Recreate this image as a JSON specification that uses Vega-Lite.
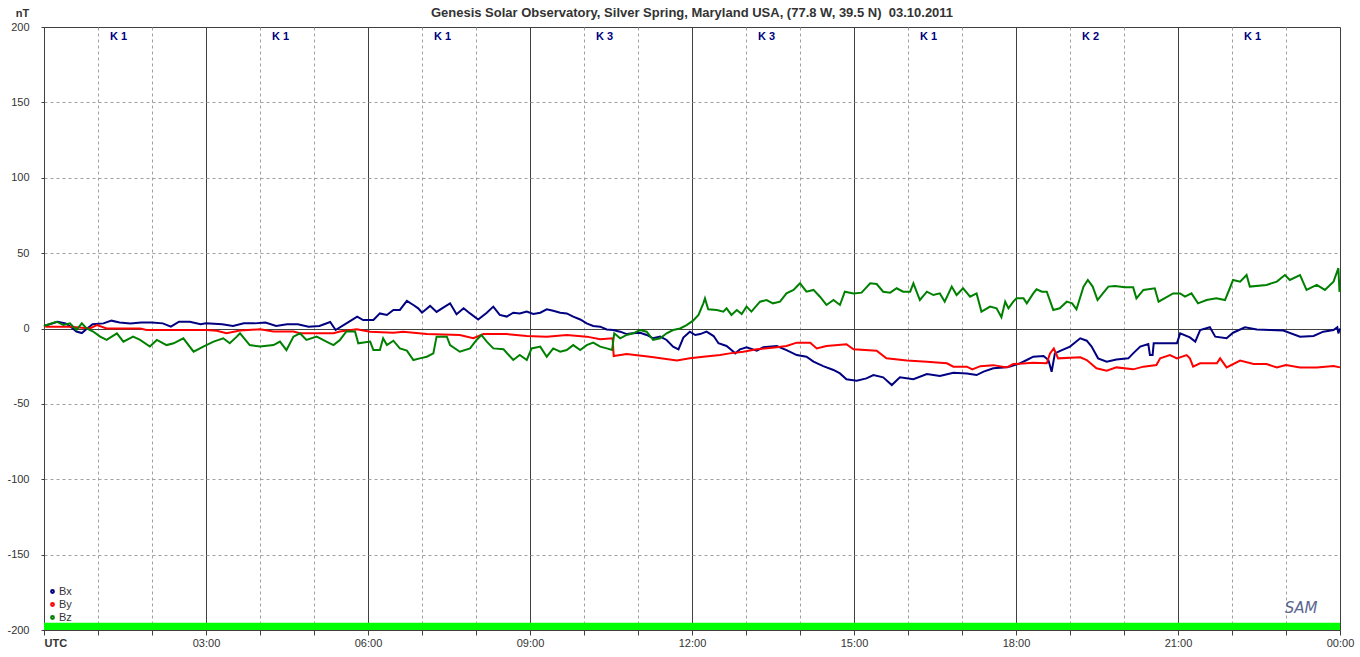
{
  "$schema": "https://vega.github.io/schema/vega-lite/v6.json",
  "width": 1296,
  "height": 603,
  "autosize": {"type": "none"},
  "padding": {"left": 44, "top": 27, "right": 20, "bottom": 27},
  "background": "white",
  "title": {"text": "Genesis Solar Observatory, Silver Spring, Maryland USA, (77.8 W, 39.5 N)\u00a0 03.10.2011", "fontSize": 13, "font": "Liberation Sans", "fontWeight": "bold", "color": "#333333", "anchor": "middle", "offset": -13},
  "config": {
    "view": {"stroke": "#404040", "strokeWidth": 1},
    "axis": {"labelFont": "Liberation Sans", "labelFontSize": 11, "labelColor": "#333333", "tickColor": "#404040", "domainColor": "#404040", "gridWidth": 1}
  },
  "datasets": {
    "series": [
      {"s":"Bx","t":0,"v":1.7},{"s":"Bx","t":0.25,"v":4.5},{"s":"Bx","t":0.4,"v":3.4},{"s":"Bx","t":0.5,"v":1},{"s":"Bx","t":0.6,"v":-2},{"s":"Bx","t":0.7,"v":-3},{"s":"Bx","t":0.8,"v":0},{"s":"Bx","t":0.9,"v":2.8},{"s":"Bx","t":1.1,"v":3.4},{"s":"Bx","t":1.25,"v":5.2},{"s":"Bx","t":1.4,"v":4},{"s":"Bx","t":1.6,"v":3.4},{"s":"Bx","t":1.8,"v":4},{"s":"Bx","t":2.0,"v":4},{"s":"Bx","t":2.2,"v":3.4},{"s":"Bx","t":2.35,"v":1.2},{"s":"Bx","t":2.5,"v":4.5},{"s":"Bx","t":2.7,"v":4.5},{"s":"Bx","t":2.9,"v":2.8},{"s":"Bx","t":3.0,"v":3.4},{"s":"Bx","t":3.3,"v":2.8},{"s":"Bx","t":3.5,"v":1.7},{"s":"Bx","t":3.7,"v":3.4},{"s":"Bx","t":3.9,"v":3.4},{"s":"Bx","t":4.1,"v":4},{"s":"Bx","t":4.3,"v":1.7},{"s":"Bx","t":4.5,"v":2.8},{"s":"Bx","t":4.7,"v":2.8},{"s":"Bx","t":4.9,"v":1.2},{"s":"Bx","t":5.1,"v":1.7},{"s":"Bx","t":5.3,"v":4.3},{"s":"Bx","t":5.4,"v":-1},{"s":"Bx","t":5.6,"v":3.4},{"s":"Bx","t":5.8,"v":7.8},{"s":"Bx","t":5.91,"v":5.6},{"s":"Bx","t":6.1,"v":5.6},{"s":"Bx","t":6.22,"v":10},{"s":"Bx","t":6.35,"v":9},{"s":"Bx","t":6.47,"v":12.3},{"s":"Bx","t":6.59,"v":12.3},{"s":"Bx","t":6.72,"v":18.3},{"s":"Bx","t":6.84,"v":15.6},{"s":"Bx","t":6.93,"v":13.4},{"s":"Bx","t":7.0,"v":10.5},{"s":"Bx","t":7.15,"v":15},{"s":"Bx","t":7.27,"v":11},{"s":"Bx","t":7.4,"v":14},{"s":"Bx","t":7.52,"v":16.7},{"s":"Bx","t":7.64,"v":9.4},{"s":"Bx","t":7.77,"v":13.4},{"s":"Bx","t":7.89,"v":10},{"s":"Bx","t":8.04,"v":6},{"s":"Bx","t":8.2,"v":10.5},{"s":"Bx","t":8.32,"v":14.5},{"s":"Bx","t":8.44,"v":9},{"s":"Bx","t":8.57,"v":7.9},{"s":"Bx","t":8.69,"v":10.5},{"s":"Bx","t":8.81,"v":10},{"s":"Bx","t":8.94,"v":11.2},{"s":"Bx","t":9.06,"v":9.6},{"s":"Bx","t":9.19,"v":10.5},{"s":"Bx","t":9.31,"v":12.7},{"s":"Bx","t":9.43,"v":11.8},{"s":"Bx","t":9.56,"v":10.5},{"s":"Bx","t":9.68,"v":10},{"s":"Bx","t":9.8,"v":7.9},{"s":"Bx","t":9.93,"v":6},{"s":"Bx","t":10.05,"v":3.4},{"s":"Bx","t":10.17,"v":1.7},{"s":"Bx","t":10.3,"v":1.2},{"s":"Bx","t":10.42,"v":-0.6},{"s":"Bx","t":10.54,"v":-1},{"s":"Bx","t":10.67,"v":-2.1},{"s":"Bx","t":10.79,"v":-3.7},{"s":"Bx","t":10.91,"v":-3.2},{"s":"Bx","t":11.04,"v":-2.8},{"s":"Bx","t":11.16,"v":-4.3},{"s":"Bx","t":11.28,"v":-6.5},{"s":"Bx","t":11.41,"v":-5.4},{"s":"Bx","t":11.53,"v":-7.6},{"s":"Bx","t":11.65,"v":-12},{"s":"Bx","t":11.75,"v":-13.8},{"s":"Bx","t":11.84,"v":-6},{"s":"Bx","t":11.96,"v":-2.1},{"s":"Bx","t":12.06,"v":-4.3},{"s":"Bx","t":12.15,"v":-3.7},{"s":"Bx","t":12.27,"v":-2.1},{"s":"Bx","t":12.4,"v":-5},{"s":"Bx","t":12.49,"v":-9.8},{"s":"Bx","t":12.64,"v":-11.6},{"s":"Bx","t":12.73,"v":-14.3},{"s":"Bx","t":12.8,"v":-16.5},{"s":"Bx","t":12.89,"v":-13.8},{"s":"Bx","t":13.01,"v":-12.5},{"s":"Bx","t":13.2,"v":-14.7},{"s":"Bx","t":13.32,"v":-12.5},{"s":"Bx","t":13.57,"v":-11.6},{"s":"Bx","t":13.75,"v":-14.3},{"s":"Bx","t":13.94,"v":-17.6},{"s":"Bx","t":14.12,"v":-18.7},{"s":"Bx","t":14.25,"v":-22},{"s":"Bx","t":14.43,"v":-25},{"s":"Bx","t":14.62,"v":-27.5},{"s":"Bx","t":14.74,"v":-29.8},{"s":"Bx","t":14.86,"v":-33.7},{"s":"Bx","t":15.05,"v":-34.6},{"s":"Bx","t":15.23,"v":-33.1},{"s":"Bx","t":15.36,"v":-30.9},{"s":"Bx","t":15.54,"v":-32.4},{"s":"Bx","t":15.7,"v":-37.5},{"s":"Bx","t":15.85,"v":-32.4},{"s":"Bx","t":16.1,"v":-33.7},{"s":"Bx","t":16.35,"v":-30.2},{"s":"Bx","t":16.59,"v":-31.5},{"s":"Bx","t":16.84,"v":-29.3},{"s":"Bx","t":17.09,"v":-29.8},{"s":"Bx","t":17.27,"v":-30.9},{"s":"Bx","t":17.4,"v":-28.6},{"s":"Bx","t":17.58,"v":-26.4},{"s":"Bx","t":17.77,"v":-25.8},{"s":"Bx","t":17.89,"v":-25.3},{"s":"Bx","t":18.07,"v":-23.1},{"s":"Bx","t":18.2,"v":-20.9},{"s":"Bx","t":18.32,"v":-18.7},{"s":"Bx","t":18.51,"v":-18.3},{"s":"Bx","t":18.6,"v":-20.9},{"s":"Bx","t":18.66,"v":-28.7},{"s":"Bx","t":18.72,"v":-16.5},{"s":"Bx","t":18.85,"v":-14.3},{"s":"Bx","t":19.0,"v":-12},{"s":"Bx","t":19.19,"v":-6.5},{"s":"Bx","t":19.31,"v":-8.1},{"s":"Bx","t":19.4,"v":-12},{"s":"Bx","t":19.52,"v":-19.8},{"s":"Bx","t":19.68,"v":-22},{"s":"Bx","t":19.86,"v":-20.5},{"s":"Bx","t":20.08,"v":-19.8},{"s":"Bx","t":20.17,"v":-16.5},{"s":"Bx","t":20.3,"v":-12},{"s":"Bx","t":20.45,"v":-10.3},{"s":"Bx","t":20.48,"v":-17.6},{"s":"Bx","t":20.53,"v":-17.6},{"s":"Bx","t":20.55,"v":-9.8},{"s":"Bx","t":20.98,"v":-9.8},{"s":"Bx","t":21.04,"v":-3.2},{"s":"Bx","t":21.22,"v":-5.9},{"s":"Bx","t":21.32,"v":-8.7},{"s":"Bx","t":21.41,"v":-1},{"s":"Bx","t":21.59,"v":0.8},{"s":"Bx","t":21.69,"v":-5.4},{"s":"Bx","t":21.9,"v":-6.5},{"s":"Bx","t":22.02,"v":-2.8},{"s":"Bx","t":22.24,"v":0.8},{"s":"Bx","t":22.46,"v":-0.6},{"s":"Bx","t":22.7,"v":-1},{"s":"Bx","t":22.95,"v":-1.4},{"s":"Bx","t":23.26,"v":-5.4},{"s":"Bx","t":23.51,"v":-5},{"s":"Bx","t":23.69,"v":-2.1},{"s":"Bx","t":23.88,"v":-1},{"s":"Bx","t":23.95,"v":0.8},{"s":"Bx","t":23.97,"v":-3.2},{"s":"Bx","t":24,"v":0},
      {"s":"By","t":0,"v":1.7},{"s":"By","t":0.05,"v":1.2},{"s":"By","t":0.5,"v":1.2},{"s":"By","t":0.85,"v":0},{"s":"By","t":0.98,"v":2.3},{"s":"By","t":1.16,"v":0},{"s":"By","t":1.78,"v":0},{"s":"By","t":1.9,"v":-1},{"s":"By","t":3.01,"v":-1},{"s":"By","t":3.2,"v":-1.5},{"s":"By","t":3.38,"v":-3.2},{"s":"By","t":3.63,"v":-1.4},{"s":"By","t":4.0,"v":-0.5},{"s":"By","t":4.25,"v":-2},{"s":"By","t":4.62,"v":-2},{"s":"By","t":4.74,"v":-3.2},{"s":"By","t":5.36,"v":-3.2},{"s":"By","t":5.48,"v":-2},{"s":"By","t":5.79,"v":-0.5},{"s":"By","t":6.04,"v":-2.1},{"s":"By","t":6.47,"v":-2.8},{"s":"By","t":6.65,"v":-2.1},{"s":"By","t":7.09,"v":-3.7},{"s":"By","t":7.7,"v":-4.3},{"s":"By","t":7.95,"v":-6.5},{"s":"By","t":8.14,"v":-3.7},{"s":"By","t":8.57,"v":-3.7},{"s":"By","t":8.94,"v":-5},{"s":"By","t":9.31,"v":-5.4},{"s":"By","t":9.68,"v":-4.3},{"s":"By","t":10.05,"v":-5.4},{"s":"By","t":10.3,"v":-7.2},{"s":"By","t":10.53,"v":-6.5},{"s":"By","t":10.55,"v":-18.3},{"s":"By","t":10.79,"v":-16.9},{"s":"By","t":11.22,"v":-18.7},{"s":"By","t":11.72,"v":-21.3},{"s":"By","t":11.96,"v":-19.8},{"s":"By","t":12.21,"v":-18.7},{"s":"By","t":12.52,"v":-17.6},{"s":"By","t":12.7,"v":-16.5},{"s":"By","t":12.95,"v":-15.4},{"s":"By","t":13.2,"v":-13.8},{"s":"By","t":13.57,"v":-12.5},{"s":"By","t":13.75,"v":-11.6},{"s":"By","t":13.94,"v":-9.4},{"s":"By","t":14.19,"v":-9.4},{"s":"By","t":14.31,"v":-13.2},{"s":"By","t":14.49,"v":-11.6},{"s":"By","t":14.86,"v":-10.4},{"s":"By","t":14.99,"v":-13.8},{"s":"By","t":15.42,"v":-14.7},{"s":"By","t":15.6,"v":-19.8},{"s":"By","t":15.98,"v":-21.3},{"s":"By","t":16.35,"v":-22},{"s":"By","t":16.72,"v":-23.1},{"s":"By","t":16.84,"v":-25.3},{"s":"By","t":17.09,"v":-25.3},{"s":"By","t":17.19,"v":-27.1},{"s":"By","t":17.34,"v":-25},{"s":"By","t":17.58,"v":-24.3},{"s":"By","t":17.83,"v":-25.8},{"s":"By","t":17.95,"v":-23.6},{"s":"By","t":18.32,"v":-22.7},{"s":"By","t":18.57,"v":-23.1},{"s":"By","t":18.63,"v":-16.5},{"s":"By","t":18.7,"v":-13.2},{"s":"By","t":18.78,"v":-19.8},{"s":"By","t":19.19,"v":-19.1},{"s":"By","t":19.31,"v":-20.9},{"s":"By","t":19.49,"v":-26.4},{"s":"By","t":19.68,"v":-28},{"s":"By","t":19.86,"v":-25.8},{"s":"By","t":20.17,"v":-27.1},{"s":"By","t":20.36,"v":-25.3},{"s":"By","t":20.6,"v":-24.2},{"s":"By","t":20.67,"v":-19.8},{"s":"By","t":20.85,"v":-17.6},{"s":"By","t":20.98,"v":-19.8},{"s":"By","t":21.16,"v":-17.6},{"s":"By","t":21.22,"v":-19.8},{"s":"By","t":21.28,"v":-25.3},{"s":"By","t":21.41,"v":-23.1},{"s":"By","t":21.72,"v":-23.1},{"s":"By","t":21.78,"v":-19.8},{"s":"By","t":21.9,"v":-25.8},{"s":"By","t":22.15,"v":-21.3},{"s":"By","t":22.4,"v":-23.6},{"s":"By","t":22.64,"v":-23.6},{"s":"By","t":22.83,"v":-25.8},{"s":"By","t":23.0,"v":-24.2},{"s":"By","t":23.26,"v":-25.8},{"s":"By","t":23.57,"v":-25.8},{"s":"By","t":23.88,"v":-24.9},{"s":"By","t":24,"v":-25.8},
      {"s":"Bz","t":0,"v":1.7},{"s":"Bz","t":0.23,"v":4.5},{"s":"Bz","t":0.36,"v":2.3},{"s":"Bz","t":0.48,"v":3.4},{"s":"Bz","t":0.6,"v":-1},{"s":"Bz","t":0.7,"v":3.4},{"s":"Bz","t":0.79,"v":0},{"s":"Bz","t":0.91,"v":-2},{"s":"Bz","t":1.04,"v":-5.4},{"s":"Bz","t":1.16,"v":-7.6},{"s":"Bz","t":1.35,"v":-3.2},{"s":"Bz","t":1.47,"v":-8.7},{"s":"Bz","t":1.65,"v":-5.4},{"s":"Bz","t":1.78,"v":-7.6},{"s":"Bz","t":1.96,"v":-12},{"s":"Bz","t":2.09,"v":-7.6},{"s":"Bz","t":2.27,"v":-11},{"s":"Bz","t":2.4,"v":-9.8},{"s":"Bz","t":2.58,"v":-6.5},{"s":"Bz","t":2.77,"v":-15.4},{"s":"Bz","t":2.95,"v":-12},{"s":"Bz","t":3.14,"v":-8.7},{"s":"Bz","t":3.32,"v":-6.5},{"s":"Bz","t":3.44,"v":-9.8},{"s":"Bz","t":3.57,"v":-5.4},{"s":"Bz","t":3.63,"v":-3.2},{"s":"Bz","t":3.81,"v":-11},{"s":"Bz","t":4.0,"v":-12},{"s":"Bz","t":4.25,"v":-11},{"s":"Bz","t":4.37,"v":-8.7},{"s":"Bz","t":4.49,"v":-14.3},{"s":"Bz","t":4.62,"v":-5.4},{"s":"Bz","t":4.74,"v":-3.2},{"s":"Bz","t":4.86,"v":-7.6},{"s":"Bz","t":5.05,"v":-5.4},{"s":"Bz","t":5.23,"v":-8.7},{"s":"Bz","t":5.36,"v":-11},{"s":"Bz","t":5.48,"v":-7.6},{"s":"Bz","t":5.6,"v":-2},{"s":"Bz","t":5.76,"v":-2},{"s":"Bz","t":5.82,"v":-9.8},{"s":"Bz","t":6.04,"v":-8.7},{"s":"Bz","t":6.1,"v":-14.3},{"s":"Bz","t":6.22,"v":-14.3},{"s":"Bz","t":6.28,"v":-6.5},{"s":"Bz","t":6.35,"v":-11},{"s":"Bz","t":6.47,"v":-8.1},{"s":"Bz","t":6.59,"v":-13.2},{"s":"Bz","t":6.72,"v":-14.7},{"s":"Bz","t":6.84,"v":-20.9},{"s":"Bz","t":6.96,"v":-19.8},{"s":"Bz","t":7.09,"v":-18.7},{"s":"Bz","t":7.21,"v":-16.5},{"s":"Bz","t":7.27,"v":-5.4},{"s":"Bz","t":7.46,"v":-5.4},{"s":"Bz","t":7.52,"v":-11},{"s":"Bz","t":7.7,"v":-15.4},{"s":"Bz","t":7.89,"v":-13.2},{"s":"Bz","t":8.01,"v":-7.6},{"s":"Bz","t":8.1,"v":-4.3},{"s":"Bz","t":8.2,"v":-8.7},{"s":"Bz","t":8.32,"v":-13.2},{"s":"Bz","t":8.51,"v":-13.8},{"s":"Bz","t":8.69,"v":-20.9},{"s":"Bz","t":8.81,"v":-17.6},{"s":"Bz","t":8.94,"v":-20.9},{"s":"Bz","t":9.03,"v":-13.2},{"s":"Bz","t":9.19,"v":-12},{"s":"Bz","t":9.31,"v":-18.7},{"s":"Bz","t":9.43,"v":-13.2},{"s":"Bz","t":9.56,"v":-15.4},{"s":"Bz","t":9.68,"v":-14.3},{"s":"Bz","t":9.8,"v":-11},{"s":"Bz","t":9.93,"v":-14.3},{"s":"Bz","t":10.05,"v":-11},{"s":"Bz","t":10.17,"v":-9.4},{"s":"Bz","t":10.3,"v":-12},{"s":"Bz","t":10.42,"v":-13.2},{"s":"Bz","t":10.52,"v":-14.3},{"s":"Bz","t":10.56,"v":-3.2},{"s":"Bz","t":10.67,"v":-6.5},{"s":"Bz","t":10.79,"v":-4.3},{"s":"Bz","t":10.91,"v":-3.2},{"s":"Bz","t":11.04,"v":-1},{"s":"Bz","t":11.16,"v":-2.1},{"s":"Bz","t":11.28,"v":-7.6},{"s":"Bz","t":11.41,"v":-6.5},{"s":"Bz","t":11.53,"v":-3.2},{"s":"Bz","t":11.65,"v":-1},{"s":"Bz","t":11.78,"v":0},{"s":"Bz","t":11.9,"v":2.3},{"s":"Bz","t":12.02,"v":5.2},{"s":"Bz","t":12.12,"v":9},{"s":"Bz","t":12.21,"v":16.7},{"s":"Bz","t":12.24,"v":20},{"s":"Bz","t":12.3,"v":12.7},{"s":"Bz","t":12.46,"v":12.3},{"s":"Bz","t":12.58,"v":11.2},{"s":"Bz","t":12.64,"v":13.4},{"s":"Bz","t":12.73,"v":9},{"s":"Bz","t":12.83,"v":12.3},{"s":"Bz","t":12.92,"v":9.6},{"s":"Bz","t":13.01,"v":14.5},{"s":"Bz","t":13.1,"v":11.2},{"s":"Bz","t":13.26,"v":17.8},{"s":"Bz","t":13.38,"v":18.9},{"s":"Bz","t":13.5,"v":16.7},{"s":"Bz","t":13.63,"v":17.8},{"s":"Bz","t":13.75,"v":23.3},{"s":"Bz","t":13.88,"v":25.6},{"s":"Bz","t":14.0,"v":30},{"s":"Bz","t":14.12,"v":24.4},{"s":"Bz","t":14.25,"v":25.6},{"s":"Bz","t":14.37,"v":21.1},{"s":"Bz","t":14.49,"v":15.6},{"s":"Bz","t":14.62,"v":18.9},{"s":"Bz","t":14.74,"v":15.6},{"s":"Bz","t":14.83,"v":24.4},{"s":"Bz","t":14.99,"v":23.3},{"s":"Bz","t":15.14,"v":23.8},{"s":"Bz","t":15.3,"v":30},{"s":"Bz","t":15.42,"v":29.5},{"s":"Bz","t":15.54,"v":24.4},{"s":"Bz","t":15.67,"v":23.8},{"s":"Bz","t":15.79,"v":26.7},{"s":"Bz","t":15.91,"v":24.4},{"s":"Bz","t":16.04,"v":24.4},{"s":"Bz","t":16.1,"v":30},{"s":"Bz","t":16.22,"v":18.9},{"s":"Bz","t":16.35,"v":24.4},{"s":"Bz","t":16.47,"v":22.2},{"s":"Bz","t":16.59,"v":23.3},{"s":"Bz","t":16.68,"v":17.8},{"s":"Bz","t":16.81,"v":27.8},{"s":"Bz","t":16.9,"v":22.2},{"s":"Bz","t":17.02,"v":26.7},{"s":"Bz","t":17.15,"v":21.1},{"s":"Bz","t":17.27,"v":23.3},{"s":"Bz","t":17.36,"v":11.2},{"s":"Bz","t":17.52,"v":14.5},{"s":"Bz","t":17.64,"v":13.4},{"s":"Bz","t":17.73,"v":7.4},{"s":"Bz","t":17.8,"v":17.8},{"s":"Bz","t":17.86,"v":13.4},{"s":"Bz","t":17.95,"v":17.8},{"s":"Bz","t":18.01,"v":20},{"s":"Bz","t":18.14,"v":20},{"s":"Bz","t":18.2,"v":16.7},{"s":"Bz","t":18.32,"v":23.3},{"s":"Bz","t":18.38,"v":26},{"s":"Bz","t":18.48,"v":24.4},{"s":"Bz","t":18.57,"v":24.4},{"s":"Bz","t":18.69,"v":12.3},{"s":"Bz","t":18.81,"v":13.4},{"s":"Bz","t":18.94,"v":17.8},{"s":"Bz","t":19.04,"v":16.7},{"s":"Bz","t":19.12,"v":12.7},{"s":"Bz","t":19.25,"v":27.8},{"s":"Bz","t":19.33,"v":32.2},{"s":"Bz","t":19.42,"v":27.8},{"s":"Bz","t":19.51,"v":18.9},{"s":"Bz","t":19.62,"v":23.8},{"s":"Bz","t":19.71,"v":27.8},{"s":"Bz","t":19.83,"v":28.2},{"s":"Bz","t":20.02,"v":27.3},{"s":"Bz","t":20.17,"v":27.3},{"s":"Bz","t":20.23,"v":20},{"s":"Bz","t":20.36,"v":25.6},{"s":"Bz","t":20.57,"v":26.7},{"s":"Bz","t":20.64,"v":17.8},{"s":"Bz","t":20.91,"v":23.3},{"s":"Bz","t":21.04,"v":23.3},{"s":"Bz","t":21.13,"v":21.1},{"s":"Bz","t":21.25,"v":23.3},{"s":"Bz","t":21.37,"v":16.7},{"s":"Bz","t":21.53,"v":18.9},{"s":"Bz","t":21.71,"v":20},{"s":"Bz","t":21.87,"v":18.9},{"s":"Bz","t":21.96,"v":26.7},{"s":"Bz","t":22.02,"v":32.2},{"s":"Bz","t":22.15,"v":31.1},{"s":"Bz","t":22.27,"v":35.5},{"s":"Bz","t":22.33,"v":27.8},{"s":"Bz","t":22.64,"v":28.9},{"s":"Bz","t":22.83,"v":31.1},{"s":"Bz","t":22.98,"v":35.5},{"s":"Bz","t":23.07,"v":32.2},{"s":"Bz","t":23.26,"v":35.5},{"s":"Bz","t":23.38,"v":25.6},{"s":"Bz","t":23.57,"v":28.9},{"s":"Bz","t":23.72,"v":25.6},{"s":"Bz","t":23.88,"v":31.1},{"s":"Bz","t":23.97,"v":40},{"s":"Bz","t":23.99,"v":24.4},{"s":"Bz","t":24,"v":26}
    ],
    "kindex": [
      {"t":1.5,"k":"K 1"},{"t":4.5,"k":"K 1"},{"t":7.5,"k":"K 1"},{"t":10.5,"k":"K 3"},{"t":13.5,"k":"K 3"},{"t":16.5,"k":"K 1"},{"t":19.5,"k":"K 2"},{"t":22.5,"k":"K 1"}
    ],
    "coverage": [{"start":0,"end":24}],
    "logo": [{"name":"SAM"}]
  },
  "layer": [
    {
      "data": {"name": "coverage"},
      "mark": {"type": "rect", "color": "#00ff00"},
      "encoding": {
        "x": {"field": "start", "type": "quantitative", "title": null},
        "x2": {"field": "end"},
        "y": {"datum": -200, "type": "quantitative", "title": null},
        "y2": {"datum": -195.2}
      }
    },
    {
      "data": {"name": "series"},
      "mark": {"type": "line", "strokeWidth": 2, "interpolate": "linear"},
      "encoding": {
        "x": {"field": "t", "type": "quantitative", "scale": {"domain": [0, 24], "nice": false, "zero": false},
          "axis": {"title": null, "values": [0,1,2,3,4,5,6,7,8,9,10,11,12,13,14,15,16,17,18,19,20,21,22,23,24],
            "labelExpr": "datum.value == 0 ? 'UTC' : (datum.value % 3 == 0 ? ((datum.value % 24 < 10 ? '0' : '') + (datum.value % 24) + ':00') : '')",
            "labelFontWeight": {"condition": {"test": "datum.value == 0", "value": "bold"}, "value": "normal"},
            "labelAlign": {"condition": {"test": "datum.value == 0", "value": "left"}, "value": "center"},
            "labelOverlap": false, "labelFlush": false, "labelPadding": 2, "tickSize": 5,
            "grid": true,
            "gridDash": {"condition": {"test": "datum.value % 3 == 0", "value": []}, "value": [3, 3]},
            "gridColor": {"condition": {"test": "datum.value % 3 == 0", "value": "#404040"}, "value": "#a0a0a0"},
            "gridOpacity": {"condition": {"test": "datum.value == 0 || datum.value == 24", "value": 0}, "value": 1}
          }
        },
        "y": {"field": "v", "type": "quantitative", "scale": {"domain": [-200, 200], "nice": false},
          "axis": {"values": [-200,-150,-100,-50,0,50,100,150,200], "labelExpr": "'' + datum.value", "title": "nT", "titleAngle": 0, "titleX": -22, "titleY": -14,
            "titleAlign": "center", "titleBaseline": "middle", "titleFontWeight": "bold", "titleFontSize": 11, "titleFont": "Liberation Sans", "titleColor": "#333333",
            "tickSize": 3, "labelPadding": 12, "grid": true,
            "gridDash": {"condition": {"test": "datum.value == 0", "value": []}, "value": [3, 3]},
            "gridColor": {"condition": {"test": "datum.value == 0", "value": "#404040"}, "value": "#a0a0a0"},
            "gridOpacity": {"condition": {"test": "abs(datum.value) == 200", "value": 0}, "value": 1}
          }
        },
        "color": {"field": "s", "type": "nominal", "scale": {"domain": ["Bx", "By", "Bz"], "range": ["#000080", "#ff0000", "#008000"]},
          "legend": {"orient": "none", "legendX": 3, "legendY": 559, "title": null, "symbolType": "circle", "symbolSize": 8, "symbolStrokeWidth": 2,
            "labelFont": "Liberation Sans", "labelFontSize": 11, "labelColor": "#333333", "rowPadding": 1, "padding": 0, "labelOffset": 1}},
        "order": {"field": "t", "type": "quantitative"}
      }
    },
    {
      "data": {"name": "kindex"},
      "mark": {"type": "text", "font": "Liberation Sans", "fontSize": 11, "fontWeight": "bold", "color": "#000080", "align": "center", "baseline": "middle", "dx": -6.5},
      "encoding": {
        "x": {"field": "t", "type": "quantitative", "title": null},
        "y": {"datum": 193.5, "type": "quantitative", "title": null},
        "text": {"field": "k"}
      }
    },
    {
      "data": {"name": "logo"},
      "mark": {"type": "text", "font": "DejaVu Sans", "fontSize": 15, "fontStyle": "italic", "color": "#5a6690", "align": "center", "baseline": "middle"},
      "encoding": {
        "x": {"datum": 23.28, "type": "quantitative", "title": null},
        "y": {"datum": -185.4, "type": "quantitative", "title": null},
        "text": {"field": "name"}
      }
    }
  ]
}
